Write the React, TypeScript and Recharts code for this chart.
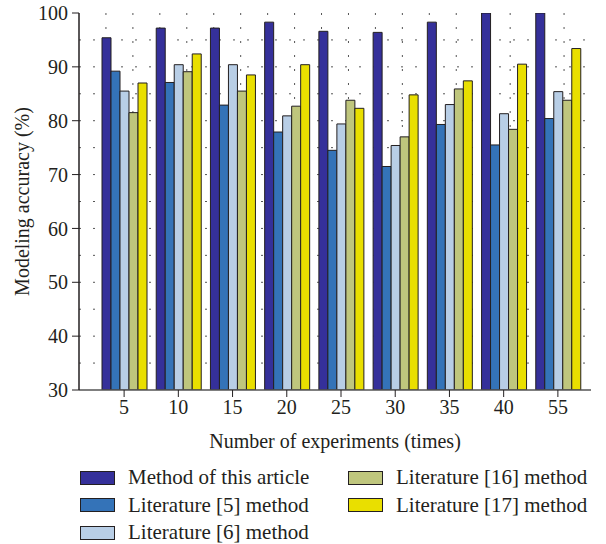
import React from "react";
import {
  Bar,
  BarChart,
  CartesianGrid,
  Legend,
  XAxis,
  YAxis,
} from "recharts";

// Número de experimentos (categorías del eje X)
const EXPERIMENTS = ["5", "10", "15", "20", "25", "30", "35", "40", "55"];

// Precisión de modelado (%) por método
const THIS_ARTICLE = [95.4, 97.2, 97.2, 98.3, 96.6, 96.4, 98.3, 100, 100];
const LIT_5 = [89.2, 87.1, 82.9, 77.9, 74.5, 71.5, 79.3, 75.5, 80.4];
const LIT_6 = [85.5, 90.4, 90.4, 80.9, 79.4, 75.4, 83.0, 81.3, 85.4];
const LIT_16 = [81.5, 89.1, 85.5, 82.7, 83.8, 77.0, 85.9, 78.4, 83.8];
const LIT_17 = [87.0, 92.4, 88.5, 90.4, 82.3, 84.8, 87.4, 90.5, 93.4];

const Y_TICKS = [30, 40, 50, 60, 70, 80, 90, 100];

interface Series {
  key: string;
  label: string;
  color: string;
  values: number[];
}

const SERIES: Series[] = [
  { key: "article", label: "Method of this article", color: "#35309a", values: THIS_ARTICLE },
  { key: "lit5", label: "Literature [5] method", color: "#3473b8", values: LIT_5 },
  { key: "lit6", label: "Literature [6] method", color: "#b8cee6", values: LIT_6 },
  { key: "lit16", label: "Literature [16] method", color: "#bfc67d", values: LIT_16 },
  { key: "lit17", label: "Literature [17] method", color: "#e9df00", values: LIT_17 },
];

const data = EXPERIMENTS.map((x, i) => {
  const row: Record<string, string | number> = { x };
  SERIES.forEach((s) => {
    row[s.key] = s.values[i];
  });
  return row;
});

const FONT = '"Liberation Serif", "Times New Roman", serif';
const INK = "#231f20";
const GRID = "#555";

// Leyenda en dos columnas, como en la figura original
function LegendBox() {
  const col1 = SERIES.slice(0, 3);
  const col2 = SERIES.slice(3);
  const item = (s: Series) => (
    <div
      key={s.key}
      style={{ display: "flex", alignItems: "center", height: 27.5 }}
    >
      <span
        style={{
          display: "inline-block",
          width: 33,
          height: 12,
          background: s.color,
          border: `1px solid ${INK}`,
          marginRight: 13,
        }}
      />
      <span style={{ fontSize: 21, color: INK, whiteSpace: "nowrap" }}>{s.label}</span>
    </div>
  );
  return (
    <div style={{ height: 92, position: "relative", fontFamily: FONT }}>
      <div style={{ position: "absolute", left: 80, top: 12 }}>{col1.map(item)}</div>
      <div style={{ position: "absolute", left: 348, top: 12 }}>{col2.map(item)}</div>
    </div>
  );
}

export default function App() {
  return (
    <div style={{ position: "absolute", left: 0, top: 0, width: 606, height: 544, background: "#fff" }}>
      <BarChart
        width={606}
        height={544}
        data={data}
        margin={{ top: 13, right: 15, bottom: 0, left: 0 }}
        barGap={0}
        barSize={9}
        style={{ fontFamily: FONT }}
      >
        <CartesianGrid
          stroke={GRID}
          strokeDasharray="2 12"
          horizontalCoordinatesGenerator={({ offset }: any) =>
            Array.from({ length: 13 }, (_, k) => offset.top + ((k + 1) * offset.height) / 14)
          }
          verticalCoordinatesGenerator={({ offset }: any) =>
            Array.from({ length: 18 }, (_, k) => offset.left + ((k + 1) * offset.width) / 19)
          }
        />
        <XAxis
          dataKey="x"
          padding={{ left: 18, right: 6 }}
          height={62}
          tick={{ fill: INK, fontSize: 20 }}
          tickSize={7}
          tickMargin={3}
          tickLine={{ stroke: INK }}
          axisLine={{ stroke: "#555", strokeWidth: 1.5 }}
          label={{
            value: "Number of experiments (times)",
            position: "insideBottom",
            offset: 4,
            fill: INK,
            fontSize: 20,
          }}
        />
        <XAxis
          xAxisId="top"
          dataKey="x"
          orientation="top"
          height={0}
          tick={false}
          tickLine={false}
          axisLine={{ stroke: INK, strokeWidth: 1.5 }}
        />
        <YAxis
          domain={[30, 100]}
          ticks={Y_TICKS}
          allowDataOverflow
          width={79}
          tick={{ fill: INK, fontSize: 20 }}
          tickSize={7}
          tickMargin={4}
          tickLine={{ stroke: INK }}
          axisLine={{ stroke: INK, strokeWidth: 1.5 }}
          label={{
            value: "Modeling accuracy (%)",
            angle: -90,
            position: "insideLeft",
            offset: 22,
            fill: INK,
            fontSize: 20,
            style: { textAnchor: "middle" },
          }}
        />
        <YAxis
          yAxisId="right"
          orientation="right"
          domain={[30, 100]}
          width={0}
          tick={false}
          tickLine={false}
          axisLine={{ stroke: INK, strokeWidth: 1.5 }}
        />
        <Legend verticalAlign="bottom" content={() => <LegendBox />} />
        {SERIES.map((s) => (
          <Bar
            key={s.key}
            dataKey={s.key}
            name={s.label}
            fill={s.color}
            stroke={INK}
            strokeWidth={1}
            isAnimationActive={false}
          />
        ))}
      </BarChart>
    </div>
  );
}
